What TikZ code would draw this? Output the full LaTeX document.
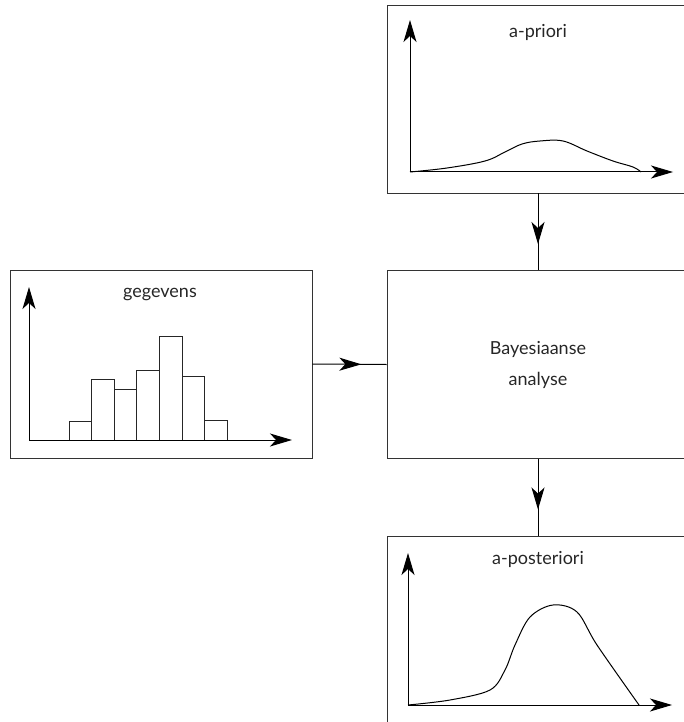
\documentclass[tikz,border=0pt]{standalone}
\usepackage{fontspec}
\setmainfont{Lato}
\usetikzlibrary{arrows.meta,decorations.markings}

\tikzset{
	panel/.style={draw=black!80, line width=0.9pt, minimum width=302pt, minimum height=188pt, inner sep=0pt},
	axis/.style={line width=1pt, -{Stealth[length=22pt,width=13pt,inset=6pt]}},
	curve/.style={line width=1pt},
	bar/.style={draw=black!85, line width=1pt, fill=white},
	title/.style={font=\fontsize{18}{21}\selectfont, text=black!85},
	link/.style={line width=1pt, postaction={decorate},
		decoration={markings, mark=at position 0.66 with {\arrow{Stealth[length=22pt,width=13pt,inset=6pt]}}}},
}

\begin{document}
\begin{tikzpicture}[x=1pt, y=-1pt]
	
	\useasboundingbox (0,0) rectangle (683,722);
	
	% Boxes
	\node[panel] (prior) at (538,99) {};
	\node[panel] (data) at (161,364) {};
	\node[panel, align=center, title] (bayes) at (538,364.5) {Bayesiaanse\\[10pt]analyse};
	\node[panel] (posterior) at (538,630) {};
	
	% Box titles
	\node[title] (priortitle) at (538,32) {a-priori};
	\node[title] (datatitle) at (160,295) {gegevens};
	\node[title] (posttitle) at (538,559) {a-posteriori};
	
	% Connectors
	\draw[link] (prior.south) -- (bayes.north);
	\draw[link] (data.east) -- (bayes.west);
	\draw[link] (bayes.south) -- (posterior.north);
	
	% Histogram
	\foreach \h [count=\i from 0] in {421,379,389,370,336,376,420}
		\draw[bar] ({69+22.6*\i},440) rectangle ({91.6+22.6*\i},\h);
	\draw[axis] (29,440) -- (29,287);
	\draw[axis] (29,440) -- (292,440);
	
	% A-priori curve
	\draw[axis] (410,172) -- (410,20);
	\draw[axis] (410,172) -- (673,172);
	\draw[curve] plot[smooth, tension=0.6] coordinates {(410,172) (447,168) (485,161) (505,152) (522,144) (540,141) (563,141) (587,151) (613,161) (633,167) (641,172)};
	
	% A-posteriori curve
	\draw[axis] (408,705) -- (408,553);
	\draw[axis] (408,705) -- (672,705);
	\draw[curve] plot[smooth, tension=0.55] coordinates {(408,705) (450,700) (490,690) (505,670) (515,645) (530,617) (553,605) (577,612) (597,645) (639,705)};
	
\end{tikzpicture}
\end{document}
